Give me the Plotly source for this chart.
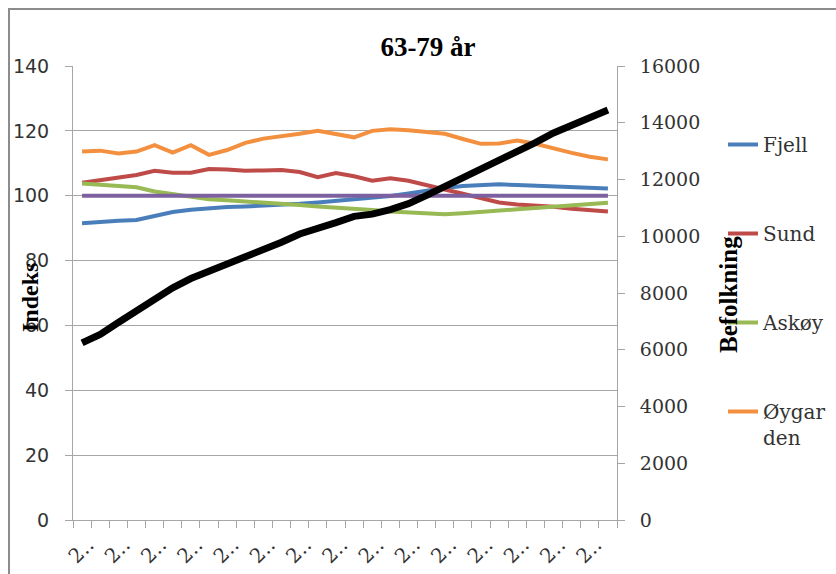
import plotly.graph_objects as go

# Index series (left axis) and population (right axis), 30 periods
fjell = [91.5, 92.0, 92.3, 92.5, 93.8, 95.0, 95.7, 96.2, 96.5, 96.7,
         96.9, 97.1, 97.5, 97.9, 98.4, 98.8, 99.3, 99.9, 100.7, 101.6,
         102.4, 103.0, 103.3, 103.5, 103.3, 103.1, 102.8, 102.4, 102.2, 102.2]
sund = [104.0, 104.8, 105.4, 106.4, 107.7, 107.1, 107.1, 108.2, 108.1, 107.7,
        107.8, 107.9, 107.3, 105.7, 107.0, 106.0, 104.6, 105.4, 104.6, 103.4,
        101.9, 100.6, 99.2, 97.9, 97.3, 97.0, 96.6, 96.0, 95.6, 95.1]
askoy = [103.8, 103.4, 103.0, 102.6, 101.3, 100.4, 99.5, 98.9, 98.6, 98.3,
         97.9, 97.5, 97.1, 96.7, 96.4, 96.2, 95.6, 95.1, 94.9, 94.8,
         94.3, 94.6, 95.1, 95.3, 95.8, 96.2, 96.6, 97.0, 97.4, 97.8]
oygarden = [113.6, 113.9, 113.0, 113.6, 115.6, 113.3, 115.6, 112.6, 114.1, 116.3,
            117.6, 118.2, 119.1, 120.0, 118.9, 118.0, 120.0, 120.5, 120.2, 119.8,
            119.1, 117.5, 116.0, 116.1, 117.0, 116.0, 114.5, 113.2, 112.0, 111.2]
referanse = [100, 100, 100, 100, 100, 100, 100, 100, 100, 100,
             100, 100, 100, 100, 100, 100, 100, 100, 100, 100,
             100, 100, 100, 100, 100, 100, 100, 100, 100, 100]
befolkning = [6240, 6540, 6960, 7380, 7780, 8180, 8510, 8760, 9030, 9280,
              9500, 9790, 10080, 10260, 10480, 10700, 10780, 10940, 11150, 11440,
              11740, 12070, 12400, 12690, 12960, 13300, 13640, 13920, 14190, 14450]

# Truncated period labels, shown on every second period
tick_labels = ["2‥", "2‥", "2‥", "2‥", "2‥", "2‥", "2‥", "2‥",
               "2‥", "2‥", "2‥", "2‥", "2‥", "2‥", "2‥"]

periods = list(range(len(befolkning)))
label_pos = periods[::2]

SERIF = "DejaVu Serif"
SANS = "DejaVu Sans"
GRID = "#a6a6a6"
TXT = "#333333"

fig = go.Figure()

index_series = [
    ("Fjell", fjell, "#4A7EBB"),
    ("Sund", sund, "#BE4B48"),
    ("Askøy", askoy, "#98B954"),
    ("Øygar<br>den", oygarden, "#F3903F"),
]
for i, (name, vals, col) in enumerate(index_series):
    fig.add_trace(go.Scatter(
        x=periods, y=vals, name=name, mode="lines",
        line=dict(color=col, width=4), legendgroup=f"g{i}",
    ))

fig.add_trace(go.Scatter(
    x=periods, y=referanse, name="Referanse", mode="lines",
    line=dict(color="#7D60A0", width=4), showlegend=False,
))
fig.add_trace(go.Scatter(
    x=periods, y=befolkning, name="Befolkning", mode="lines",
    line=dict(color="#000000", width=7), yaxis="y2", showlegend=False,
))

fig.update_layout(
    width=836, height=574,
    margin=dict(l=73, r=219, t=66, b=54, autoexpand=False),
    paper_bgcolor="white", plot_bgcolor="white",
    title=dict(text="<b>63-79 år</b>", x=428 / 836, xanchor="center",
               y=1 - 47 / 574, yanchor="middle",
               font=dict(family="Liberation Serif", size=27, color="#000")),
    xaxis=dict(
        range=[-0.5, 29.5], showgrid=False, zeroline=False, automargin=False,
        showline=True, linecolor=GRID, linewidth=1,
        tickmode="array", tickvals=label_pos, ticktext=tick_labels,
        ticks="", tickangle=-45, ticklabelstandoff=4, ticklabelshift=6,
        tickfont=dict(family=SERIF, size=20, color=TXT),
        minor=dict(tickmode="linear", tick0=-0.5, dtick=1, ticks="outside",
                   ticklen=7, tickcolor=GRID, showgrid=False),
    ),
    yaxis=dict(
        range=[0, 140], dtick=20, showgrid=True, gridcolor=GRID, gridwidth=1,
        zeroline=False, showline=True, linecolor=GRID, linewidth=1,
        automargin=False,
        ticks="outside", ticklen=7, tickcolor=GRID, ticklabelstandoff=12,
        tickfont=dict(family=SANS, size=19, color=TXT),
    ),
    yaxis2=dict(
        range=[0, 16000], dtick=2000, tickformat="d", overlaying="y",
        side="right", showgrid=False, zeroline=False, showline=True,
        automargin=False,
        linecolor=GRID, linewidth=1, ticks="outside", ticklen=7,
        tickcolor=GRID, ticklabelstandoff=11,
        tickfont=dict(family=SERIF, size=19, color=TXT),
    ),
    legend=dict(
        x=(723 - 73) / 544, xanchor="left", y=(520 - 125) / 454, yanchor="top",
        font=dict(family=SERIF, size=20, color=TXT),
        tracegroupgap=60, valign="top", bgcolor="rgba(0,0,0,0)",
    ),
    showlegend=True,
)

# Axis titles
fig.add_annotation(text="<b>Indeks</b>", textangle=-90, xref="paper", yref="paper",
                   x=(30 - 73) / 544, y=(520 - 298) / 454, showarrow=False,
                   xanchor="center", yanchor="middle",
                   font=dict(family="Liberation Serif", size=24, color="#000"))
fig.add_annotation(text="<b>Befolkning</b>", textangle=-90, xref="paper", yref="paper",
                   x=(728 - 73) / 544, y=(520 - 295) / 454, showarrow=False,
                   xanchor="center", yanchor="middle",
                   font=dict(family="Liberation Serif", size=25, color="#000"))

# Chart frame
fig.add_shape(type="rect", xref="paper", yref="paper",
              x0=(9 - 73) / 544, x1=(900 - 73) / 544,
              y0=(520 - 600) / 454, y1=(520 - 9) / 454,
              line=dict(color="#8c8c8c", width=2), fillcolor="rgba(0,0,0,0)",
              layer="below")

fig.write_html("out.html")
